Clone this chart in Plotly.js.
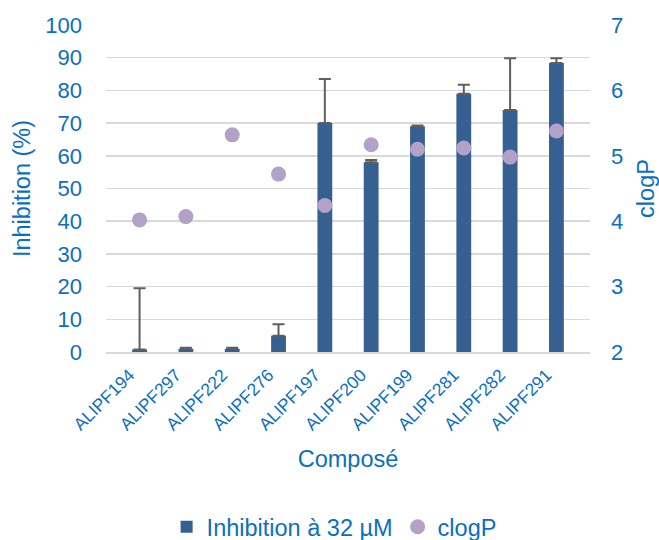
<!DOCTYPE html>
<html>
<head>
<meta charset="utf-8">
<script src="https://cdn.plot.ly/plotly-3.0.1.min.js"></script>
<style>html,body{margin:0;padding:0;background:#fff;}#chart{width:659px;height:540px;}</style>
</head>
<body>
<div id="chart"></div>
<script>
const compounds = ["ALIPF194","ALIPF297","ALIPF222","ALIPF276","ALIPF197","ALIPF200","ALIPF199","ALIPF281","ALIPF282","ALIPF291"];
const inhibition = [0.8, 1, 1, 5, 70, 58, 69, 79, 74, 88.4];
const inhibitionErr = [18.7, 0.3, 0.3, 3.5, 13.5, 0.7, 0.3, 2.7, 15.8, 1.4];
const clogP = [4.02, 4.07, 5.32, 4.72, 4.24, 5.17, 5.10, 5.12, 4.98, 5.38];

const blue = "#0a6fc2";
const font = "Liberation Sans, Arial, sans-serif";

const traces = [
  {
    type: "bar",
    name: "Inhibition à 32 µM",
    x: compounds,
    y: inhibition,
    width: 0.32,
    marker: {color: "#376092"},
    error_y: {type: "data", symmetric: false, array: inhibitionErr, arrayminus: inhibitionErr.map(() => 0), color: "#5f5f5f", thickness: 2, width: 6},
    yaxis: "y"
  },
  {
    type: "scatter",
    mode: "markers",
    name: "clogP",
    x: compounds,
    y: clogP,
    marker: {color: "#b3a2c7", size: 15},
    yaxis: "y2"
  }
];

const layout = {
  width: 659, height: 540,
  margin: {l: 106, r: 69, t: 25, b: 188},
  paper_bgcolor: "#fff", plot_bgcolor: "#fff",
  font: {family: font, color: blue},
  showlegend: true,
  legend: {orientation: "h", x: 0.507, xref: "container", xanchor: "center", y: 0.024, yref: "container", yanchor: "middle", font: {size: 23.5, color: blue}, itemwidth: 20, tracegroupgap: 0},
  xaxis: {
    automargin: false,
    tickangle: -45, tickfont: {size: 17.5, color: blue},
    ticklabelshift: -10, ticklabelstandoff: 4,
    showline: true, linecolor: "#d9d9d9", linewidth: 2,
    ticks: "", showgrid: false,
    title: {text: "Composé", font: {size: 23.5, color: blue}, standoff: 17}
  },
  yaxis: {
    automargin: false,
    range: [0, 100], dtick: 10, tickfont: {size: 22, color: blue},
    showgrid: true, gridcolor: "#d9d9d9", gridwidth: 1.5, zeroline: false,
    ticks: "", ticklabelstandoff: 23,
    title: {text: "Inhibition (%)", font: {size: 23.5, color: blue}, standoff: 8}
  },
  yaxis2: {
    automargin: false,
    range: [2, 7], dtick: 1, overlaying: "y", side: "right",
    tickfont: {size: 22, color: blue}, showgrid: false, zeroline: false,
    ticks: "", ticklabelstandoff: 20,
    title: {text: "clogP", font: {size: 23.5, color: blue}, standoff: 15}
  },
  bargap: 0.68
};

Plotly.newPlot("chart", traces, layout, {displayModeBar: false, staticPlot: true});
</script>
</body>
</html>
